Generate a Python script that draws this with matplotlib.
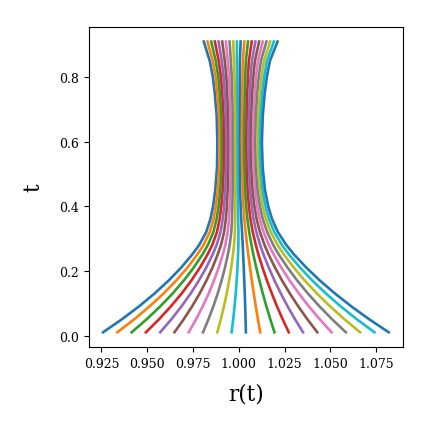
"""
Family of r(t) trajectories converging near r = 1
"""

import numpy as np
import matplotlib
matplotlib.use("Agg")
import matplotlib.pyplot as plt
from matplotlib.ticker import MultipleLocator

plt.rcParams['font.family'] = ['DejaVu Serif']

# sample times
t = [0.01, 0.05, 0.09, 0.13, 0.17, 0.21, 0.25, 0.28, 0.32, 0.36,
     0.40, 0.45, 0.52, 0.60, 0.68, 0.75, 0.80, 0.85, 0.91]

# outermost left and right curves (both blue)
r_left = [0.92588, 0.93611, 0.94547, 0.95401, 0.96167, 0.96852, 0.97448,
          0.97837, 0.98220, 0.98450, 0.98598, 0.98718, 0.98812, 0.98833,
          0.98795, 0.98691, 0.98587, 0.98417, 0.98089]
r_right = [1.08189, 1.07132, 1.06152, 1.05255, 1.04433, 1.03694, 1.03032,
           1.02600, 1.02140, 1.01822, 1.01609, 1.01434, 1.01308, 1.01264,
           1.01313, 1.01417, 1.01532, 1.01702, 1.02118]

# starting radii of the 21 curves at the bottom
r_start = [0.9259, 0.9337, 0.9415, 0.9493, 0.9571, 0.9649, 0.9727,
           0.9805, 0.9883, 0.9961, 1.0039, 1.0117, 1.0195, 1.0273,
           1.0351, 1.0429, 1.0507, 1.0585, 1.0663, 1.0741, 1.0819]

left = np.array(r_left)
right = np.array(r_right)

fig, ax = plt.subplots(figsize=(4.31, 4.31), dpi=100)
fig.subplots_adjust(left=0.206, right=0.935, bottom=0.193, top=0.935)

for r0 in r_start:
    frac = (r0 - left[0]) / (right[0] - left[0])
    ax.plot(left + frac * (right - left), t, lw=1.9)

ax.xaxis.set_major_locator(MultipleLocator(0.025))
ax.set_xlabel('r(t)', fontsize=15.5, labelpad=9)
ax.set_ylabel('t', fontsize=15.5, labelpad=11)
ax.tick_params(labelsize=9)

fig.savefig('out.png', dpi=100)
